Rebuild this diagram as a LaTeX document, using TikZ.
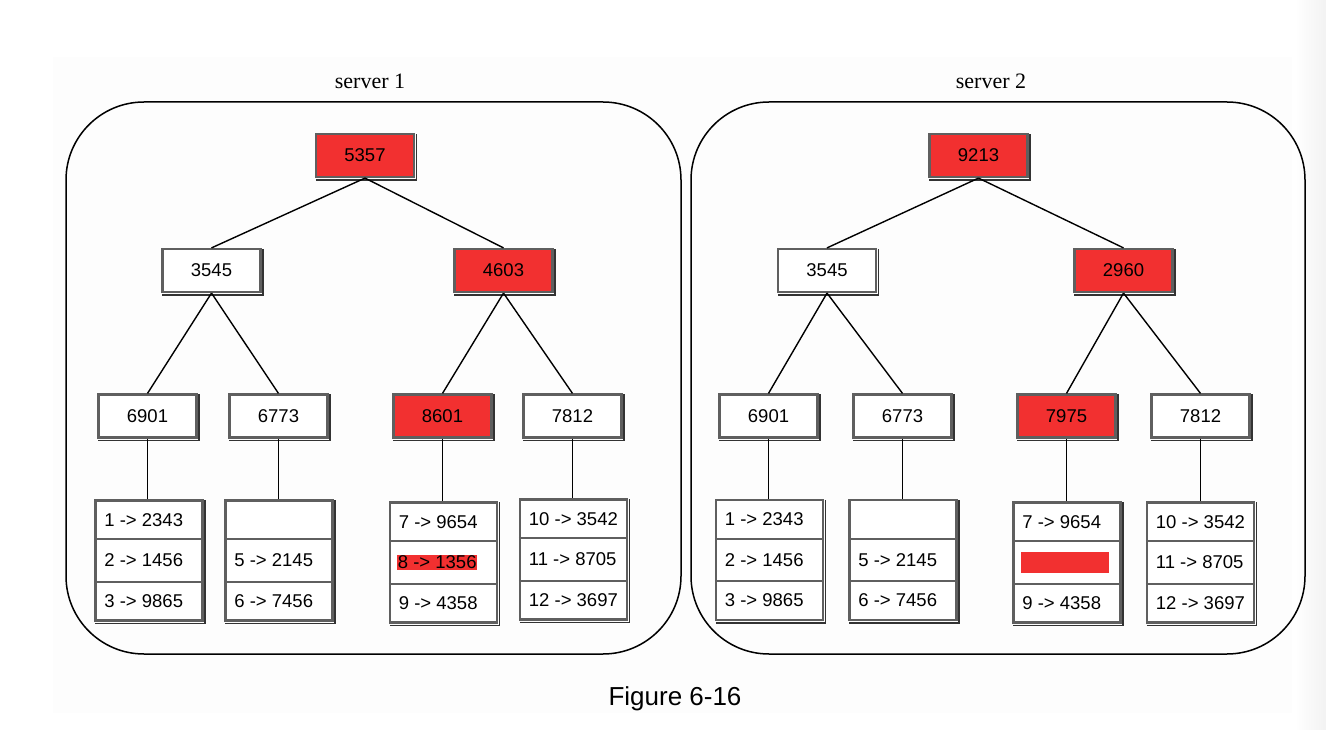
\documentclass[tikz,border=0pt]{standalone}
\usepackage{fontspec}
\setmainfont{Liberation Sans}
\newfontfamily\srvfont{Liberation Serif}
\definecolor{hl}{RGB}{242,48,48}
\definecolor{bord}{RGB}{95,95,95}
\tikzset{
  tnode/.style={rectangle, draw=bord, line width=2.2pt, fill=white,
    minimum width=98pt, minimum height=43pt, inner sep=0pt,
    font=\fontsize{18.5}{20}\selectfont},
  rednode/.style={tnode, fill=hl},
  leafbox/.style={rectangle, draw=bord, line width=2.2pt, fill=white,
    minimum width=107pt, minimum height=120pt, inner sep=0pt},
  rowtext/.style={anchor=west, inner sep=0.8pt, font=\fontsize{18.5}{20}\selectfont},
  rowline/.style={draw=bord, line width=2pt},
  link/.style={draw=black, line width=1.4pt},
  shadowline/.style={draw=black!80, line width=1.8pt},
  server/.style={draw=black, line width=1.5pt, rounded corners=78pt},
  srvlabel/.style={font=\srvfont\fontsize{22}{24}\selectfont, inner sep=0pt},
}
\newcommand{\boxshadow}[1]{%
  \draw[shadowline] ([shift={(1,1.9)}]#1.south west) -- ([shift={(1.3,1.9)}]#1.south east) -- ([shift={(1.3,1)}]#1.north east);}
% leaf table: name, center x, center y, row1, row2, row3
\newcommand{\leaftable}[6]{%
  \node[leafbox] (#1) at (#2,#3) {};
  \boxshadow{#1}
  \draw[rowline] ([yshift=-40pt]#1.north west) -- ([yshift=-40pt]#1.north east);
  \draw[rowline] ([yshift=40pt]#1.south west) -- ([yshift=40pt]#1.south east);
  \node[rowtext] (#1a) at ([xshift=9pt,yshift=-20.5pt]#1.north west) {#4};
  \node[rowtext] (#1b) at ([xshift=9pt]#1.west) {#5};
  \node[rowtext] (#1c) at ([xshift=9pt,yshift=20.5pt]#1.south west) {#6};
}
\begin{document}
\begin{tikzpicture}[x=1pt,y=-1pt]
\useasboundingbox (0,0) rectangle (1326,730);
\fill[white] (0,0) rectangle (1326,730);
\fill[black!0.8] (53,57) rectangle (1292,713);
\shade[left color=white, right color=black!5] (1295,0) rectangle (1326,730);

% server frames
\draw[server] (66,102) rectangle (681,654);
\draw[server] (691,102) rectangle (1305,654);
\node[srvlabel] (lab1) at (370,81) {server 1};
\node[srvlabel] (lab2) at (991,81) {server 2};

% ---------- server 1 ----------
\node[rednode] (a) at (365,155.5) {5357};
\node[tnode] (b) at (211.5,270.5) {3545};
\node[rednode] (c) at (503.5,270.5) {4603};
\node[tnode] (d) at (147.5,416) {6901};
\node[tnode] (e) at (278.5,416) {6773};
\node[rednode] (f) at (442.5,416) {8601};
\node[tnode] (g) at (572.5,416) {7812};
\foreach \n in {a,b,c,d,e,f,g} {\boxshadow{\n}}

\leaftable{la}{149}{560.5}{1 -> 2343}{2 -> 1456}{3 -> 9865}
\leaftable{lb}{279}{560.5}{}{5 -> 2145}{6 -> 7456}
\node[leafbox] (lc) at (443.5,562.5) {};
\boxshadow{lc}
\draw[rowline] ([yshift=-40pt]lc.north west) -- ([yshift=-40pt]lc.north east);
\draw[rowline] ([yshift=40pt]lc.south west) -- ([yshift=40pt]lc.south east);
\node[rowtext] (lca) at ([xshift=9pt,yshift=-20.5pt]lc.north west) {7 -> 9654};
\node[rowtext, fill=hl] (lcb) at ([xshift=8pt]lc.west) {8 -> 1356};
\node[rowtext] (lcc) at ([xshift=9pt,yshift=20.5pt]lc.south west) {9 -> 4358};
\leaftable{ld}{573.5}{559.5}{10 -> 3542}{11 -> 8705}{12 -> 3697}

\draw[link] (a.south) -- (b.north);
\draw[link] (a.south) -- (c.north);
\draw[link] (b.south) -- (d.north);
\draw[link] (b.south) -- (e.north);
\draw[link] (c.south) -- (f.north);
\draw[link] (c.south) -- (g.north);
\draw[link] (d.south) -- (la.north -| d.south);
\draw[link] (e.south) -- (lb.north -| e.south);
\draw[link] (f.south) -- (lc.north -| f.south);
\draw[link] (g.south) -- (ld.north -| g.south);

% ---------- server 2 ----------
\node[rednode] (A) at (978.5,155.5) {9213};
\node[tnode] (B) at (827,270.5) {3545};
\node[rednode] (C) at (1123.5,270.5) {2960};
\node[tnode] (D) at (768.5,416) {6901};
\node[tnode] (E) at (902.5,416) {6773};
\node[rednode] (F) at (1066.5,416) {7975};
\node[tnode] (G) at (1200.5,416) {7812};
\foreach \n in {A,B,C,D,E,F,G} {\boxshadow{\n}}

\leaftable{lA}{769.5}{560}{1 -> 2343}{2 -> 1456}{3 -> 9865}
\leaftable{lB}{903}{560}{}{5 -> 2145}{6 -> 7456}
\leaftable{lC}{1067}{562.5}{7 -> 9654}{}{9 -> 4358}
\node[fill=hl, minimum width=88pt, minimum height=21pt, inner sep=0pt, anchor=west] (lCbar) at ([xshift=8pt]lC.west) {};
\leaftable{lD}{1200.5}{562.5}{10 -> 3542}{11 -> 8705}{12 -> 3697}

\draw[link] (A.south) -- (B.north);
\draw[link] (A.south) -- (C.north);
\draw[link] (B.south) -- (D.north);
\draw[link] (B.south) -- (E.north);
\draw[link] (C.south) -- (F.north);
\draw[link] (C.south) -- (G.north);
\draw[link] (D.south) -- (lA.north -| D.south);
\draw[link] (E.south) -- (lB.north -| E.south);
\draw[link] (F.south) -- (lC.north -| F.south);
\draw[link] (G.south) -- (lD.north -| G.south);

\node[font=\fontsize{26}{30}\selectfont, inner sep=0pt] (cap) at (675,699) {Figure 6-16};
\end{tikzpicture}
\end{document}
